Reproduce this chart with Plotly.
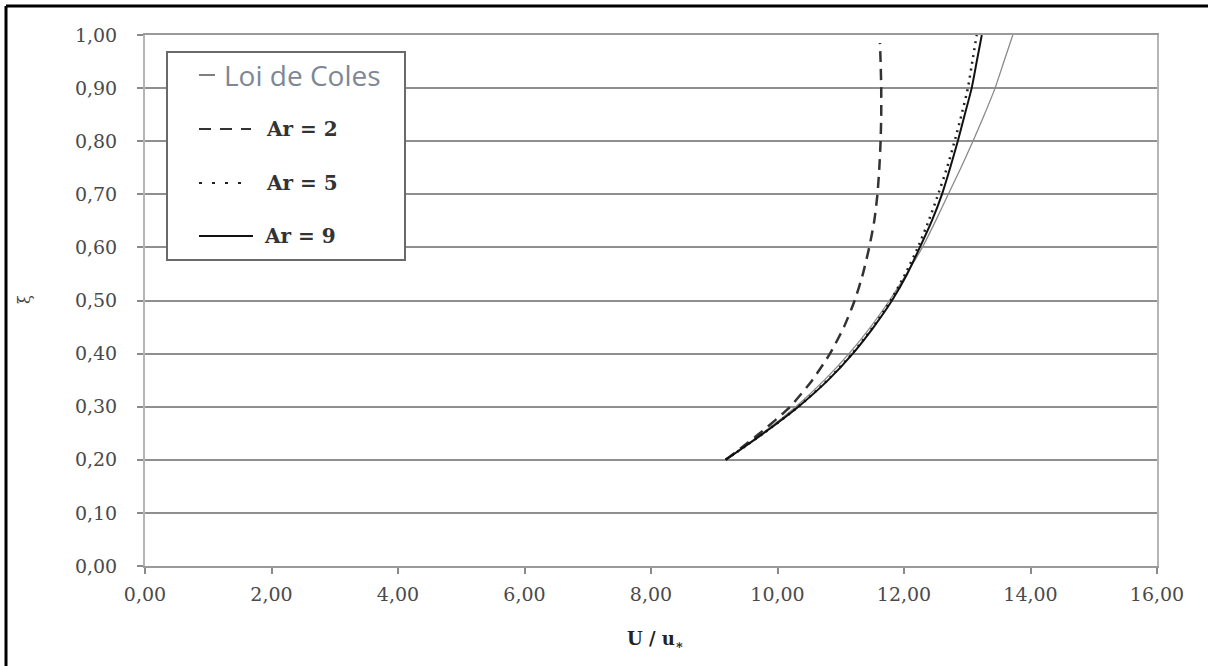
import plotly.graph_objects as go

# Dimensionless height xi and velocity profiles U/u* for each case
xi = [0.20, 0.25, 0.30, 0.35, 0.40, 0.45, 0.50, 0.55, 0.60, 0.65, 0.70,
      0.75, 0.80, 0.85, 0.90, 0.95, 1.00]
xi_ar2 = [0.20, 0.25, 0.30, 0.35, 0.40, 0.45, 0.50, 0.55, 0.60, 0.65, 0.70,
          0.75, 0.80, 0.85, 0.90, 0.95, 0.985]
u_coles = [9.18, 9.76, 10.29, 10.74, 11.13, 11.47, 11.77, 12.04, 12.29,
           12.50, 12.70, 12.90, 13.09, 13.27, 13.44, 13.58, 13.72]
u_ar2 = [9.18, 9.72, 10.20, 10.55, 10.83, 11.05, 11.22, 11.35, 11.45,
         11.53, 11.58, 11.61, 11.63, 11.64, 11.64, 11.63, 11.62]
u_ar5 = [9.18, 9.78, 10.33, 10.79, 11.18, 11.51, 11.79, 12.02, 12.22,
         12.39, 12.54, 12.68, 12.80, 12.91, 13.01, 13.08, 13.15]
u_ar9 = [9.18, 9.78, 10.33, 10.80, 11.19, 11.52, 11.81, 12.05, 12.25,
         12.44, 12.60, 12.73, 12.85, 12.96, 13.07, 13.15, 13.23]

names = ["Loi de Coles", "Ar = 2", "Ar = 5", "Ar = 9"]

x_ticks = [0, 2, 4, 6, 8, 10, 12, 14, 16]
y_ticks = [0.0, 0.1, 0.2, 0.3, 0.4, 0.5, 0.6, 0.7, 0.8, 0.9, 1.0]

# Figure geometry (pixels)
FIG_W, FIG_H = 1208, 666
L, R, T, B = 145, 1157, 35, 566
PW, PH = R - L, B - T


def px(x):
    return (x - L) / PW


def py(y):
    return (B - y) / PH


styles = [
    dict(color="#8a8a8a", width=1.3, dash="solid"),
    dict(color="#333333", width=2.5, dash="11px,7px"),
    dict(color="#222222", width=2.5, dash="2px,5px"),
    dict(color="#111111", width=2.0, dash="solid"),
]
series = [(u_coles, xi), (u_ar2, xi_ar2), (u_ar5, xi), (u_ar9, xi)]

fig = go.Figure()
for name, (u, yv), st in zip(names, series, styles):
    fig.add_trace(go.Scatter(
        x=u, y=yv, mode="lines", name=name,
        line=dict(color=st["color"], width=st["width"], dash=st["dash"],
                  shape="spline", smoothing=0.6),
        showlegend=False, hoverinfo="x+y+name",
    ))

shapes = []
annotations = []

# Legend box
shapes.append(dict(type="rect", xref="paper", yref="paper",
                   x0=px(167), x1=px(405), y0=py(260), y1=py(52),
                   line=dict(color="#6a6a6a", width=2), fillcolor="white",
                   layer="above"))

# Legend samples and labels
leg_rows = [75, 129, 183, 236]
sample_x = [(199, 215), (199, 251), (199, 243), (199, 253)]
text_x = [222, 264, 264, 262]
for i, (name, st) in enumerate(zip(names, styles)):
    y = leg_rows[i]
    x0, x1 = sample_x[i]
    shapes.append(dict(type="line", xref="paper", yref="paper",
                       x0=px(x0), x1=px(x1), y0=py(y), y1=py(y),
                       line=dict(color=st["color"] if i else "#555555",
                                 width=2.2 if i else 1.5,
                                 dash=("12px,9px" if i == 1 else
                                       "3px,10px" if i == 2 else "solid")),
                       layer="above"))
    if i == 0:
        font = dict(family="Open Sans", size=28, color="#7d8796")
    else:
        font = dict(family="DejaVu Serif", size=20, color="#333333")
        name = "<b>" + name + "</b>"
    annotations.append(dict(xref="paper", yref="paper", x=px(text_x[i]),
                            y=py(y), xanchor="left", yanchor="middle",
                            text=name, showarrow=False, font=font))

# Axis titles
annotations.append(dict(xref="paper", yref="paper", x=px(655), y=py(640),
                        xanchor="center", yanchor="middle",
                        text="<b>U / u<sub>∗</sub></b>", showarrow=False,
                        font=dict(family="DejaVu Serif", size=18,
                                  color="#222222")))
annotations.append(dict(xref="paper", yref="paper", x=px(24), y=py(300),
                        xanchor="center", yanchor="middle", textangle=-90,
                        text="ξ", showarrow=False,
                        font=dict(family="DejaVu Serif", size=16,
                                  color="#444444")))

# Outer frame (top and left edges)
shapes.append(dict(type="line", xref="paper", yref="paper",
                   x0=px(6), x1=px(FIG_W), y0=py(6), y1=py(6),
                   line=dict(color="black", width=3)))
shapes.append(dict(type="line", xref="paper", yref="paper",
                   x0=px(6), x1=px(6), y0=py(6), y1=py(FIG_H),
                   line=dict(color="black", width=3)))

tick_font = dict(family="DejaVu Serif", size=19, color="#4a4a4a")

fig.update_layout(
    width=FIG_W, height=FIG_H,
    margin=dict(l=L, r=FIG_W - R, t=T, b=FIG_H - B),
    paper_bgcolor="white", plot_bgcolor="white",
    separators=", ",
    shapes=shapes, annotations=annotations,
    xaxis=dict(range=[0, 16], tickvals=x_ticks, tickformat=".2f",
               showgrid=False, zeroline=False,
               showline=True, linecolor="#9a9a9a", linewidth=2, mirror=True,
               ticks="outside", ticklen=6, tickcolor="#8a8a8a", tickwidth=1.5,
               tickfont=tick_font, ticklabelstandoff=4, fixedrange=True),
    yaxis=dict(range=[0, 1], tickvals=y_ticks, tickformat=".2f",
               showgrid=True, gridcolor="#8f8f8f", gridwidth=2,
               zeroline=False,
               showline=True, linecolor="#b5b5b5", linewidth=2, mirror=True,
               ticks="outside", ticklen=6, tickcolor="#8a8a8a", tickwidth=1.5,
               tickfont=tick_font, ticklabelstandoff=16, fixedrange=True),
)

fig.write_html("out.html")
